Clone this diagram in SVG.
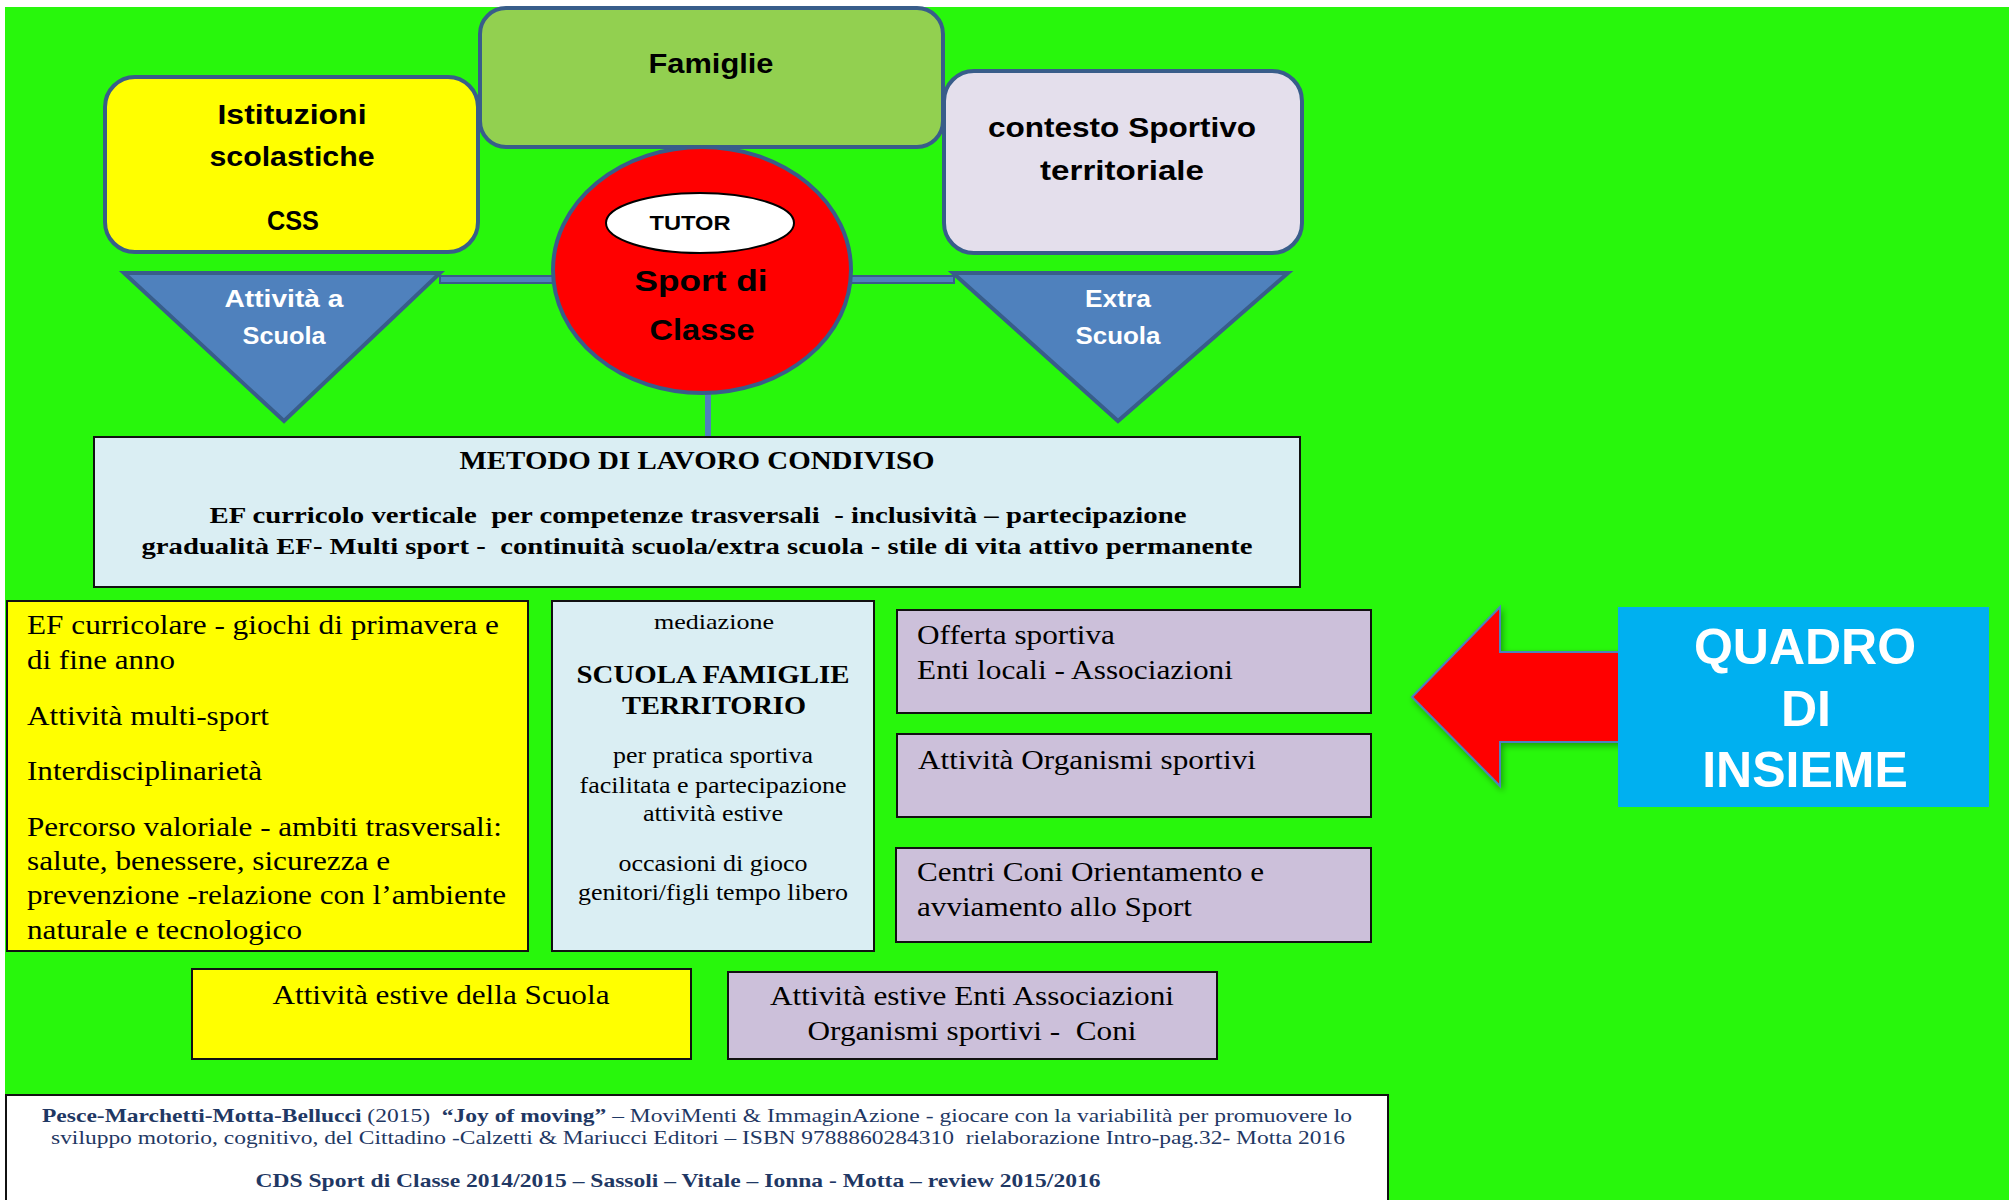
<svg xmlns="http://www.w3.org/2000/svg" width="2009" height="1200" viewBox="0 0 2009 1200">
<defs>
<style>
.hd{font-family:"Liberation Sans",Arial,sans-serif;font-weight:bold;fill:#000;text-anchor:middle}
.wh{font-family:"Liberation Sans",Arial,sans-serif;font-weight:bold;fill:#fff;text-anchor:middle}
.sr{font-family:"Liberation Serif","Times New Roman",serif;fill:#000;white-space:pre}
.srb{font-family:"Liberation Serif","Times New Roman",serif;font-weight:bold;fill:#000;white-space:pre}
.mid{text-anchor:middle}
.ft{font-family:"Liberation Serif","Times New Roman",serif;fill:#1F3864;font-size:19px;white-space:pre}
.rbox{stroke:#385D8A;stroke-width:4}
.sbox{stroke:#111;stroke-width:2}
</style>
<filter id="sh" x="-20%" y="-20%" width="140%" height="140%">
<feDropShadow dx="2" dy="3" stdDeviation="3" flood-color="#000" flood-opacity="0.35"/>
</filter>
</defs>
<rect x="0" y="0" width="2009" height="1200" fill="#fff"/>
<rect x="5" y="7" width="2004" height="1193" fill="#28F70C"/>

<g id="connectors">
<rect x="440" y="276" width="116" height="7" fill="#4F81BD" stroke="#385D8A" stroke-width="2"/>
<rect x="850" y="276" width="104" height="7" fill="#4F81BD" stroke="#385D8A" stroke-width="2"/>
<line x1="708" y1="392" x2="708" y2="437" stroke="#4F81BD" stroke-width="6"/>
</g>

<g id="node-istituzioni">
<rect x="105" y="77" width="373" height="175" rx="30" ry="30" fill="#FFFF00" class="rbox"/>
<text class="hd" x="292" y="124" font-size="27" textLength="149" lengthAdjust="spacingAndGlyphs">Istituzioni</text>
<text class="hd" x="292" y="166" font-size="27" textLength="165" lengthAdjust="spacingAndGlyphs">scolastiche</text>
<text class="hd" x="293" y="230" font-size="27" textLength="52" lengthAdjust="spacingAndGlyphs">CSS</text>
</g>

<g id="node-famiglie">
<rect x="480" y="8" width="463" height="139" rx="26" ry="26" fill="#92D050" class="rbox"/>
<text class="hd" x="711" y="73" font-size="27" textLength="125" lengthAdjust="spacingAndGlyphs">Famiglie</text>
</g>

<g id="node-contesto">
<rect x="944" y="71" width="358" height="182" rx="30" ry="30" fill="#E4DFEC" class="rbox"/>
<text class="hd" x="1122" y="137" font-size="27" textLength="268" lengthAdjust="spacingAndGlyphs">contesto Sportivo</text>
<text class="hd" x="1122" y="180" font-size="27" textLength="164" lengthAdjust="spacingAndGlyphs">territoriale</text>
</g>

<g id="node-attivita-scuola">
<polygon points="124,273 440,273 284,421" fill="#4F81BD" class="rbox"/>
<text class="wh" x="284" y="307" font-size="23" textLength="119" lengthAdjust="spacingAndGlyphs">Attività a</text>
<text class="wh" x="284" y="344" font-size="23" textLength="83" lengthAdjust="spacingAndGlyphs">Scuola</text>
</g>

<g id="node-extra-scuola">
<polygon points="953,273 1288,273 1118,421" fill="#4F81BD" class="rbox"/>
<text class="wh" x="1118" y="307" font-size="23" textLength="66" lengthAdjust="spacingAndGlyphs">Extra</text>
<text class="wh" x="1118" y="344" font-size="23" textLength="85" lengthAdjust="spacingAndGlyphs">Scuola</text>
</g>

<g id="node-sport-di-classe">
<ellipse cx="702" cy="270" rx="149" ry="123" fill="#FF0000" class="rbox"/>
<text class="hd" x="701" y="291" font-size="30" textLength="133" lengthAdjust="spacingAndGlyphs">Sport di</text>
<text class="hd" x="702" y="340" font-size="30" textLength="105" lengthAdjust="spacingAndGlyphs">Classe</text>
</g>

<g id="node-tutor">
<ellipse cx="700" cy="223" rx="94" ry="30" fill="#fff" stroke="#000" stroke-width="2"/>
<text class="hd" x="690" y="230" font-size="21" textLength="81" lengthAdjust="spacingAndGlyphs">TUTOR</text>
</g>

<g id="node-metodo">
<rect x="94" y="437" width="1206" height="150" fill="#DAEEF3" class="sbox"/>
<text class="srb mid" x="697" y="469" font-size="25" textLength="475" lengthAdjust="spacingAndGlyphs">METODO DI LAVORO CONDIVISO</text>
<text class="srb mid" x="698" y="523" font-size="24" textLength="977" lengthAdjust="spacingAndGlyphs">EF curricolo verticale  per competenze trasversali  - inclusività – partecipazione</text>
<text class="srb mid" x="697" y="554" font-size="24" textLength="1111" lengthAdjust="spacingAndGlyphs">gradualità EF- Multi sport -  continuità scuola/extra scuola - stile di vita attivo permanente</text>
</g>

<g id="node-scuola-attivita">
<rect x="7" y="601" width="521" height="350" fill="#FFFF00" class="sbox"/>
<text class="sr" x="27" y="634" font-size="27" textLength="472" lengthAdjust="spacingAndGlyphs">EF curricolare - giochi di primavera e</text>
<text class="sr" x="27" y="669" font-size="27" textLength="148" lengthAdjust="spacingAndGlyphs">di fine anno</text>
<text class="sr" x="27" y="725" font-size="27" textLength="242" lengthAdjust="spacingAndGlyphs">Attività multi-sport</text>
<text class="sr" x="27" y="780" font-size="27" textLength="235" lengthAdjust="spacingAndGlyphs">Interdisciplinarietà</text>
<text class="sr" x="27" y="836" font-size="27" textLength="475" lengthAdjust="spacingAndGlyphs">Percorso valoriale - ambiti trasversali:</text>
<text class="sr" x="27" y="870" font-size="27" textLength="363" lengthAdjust="spacingAndGlyphs">salute, benessere, sicurezza e</text>
<text class="sr" x="27" y="904" font-size="27" textLength="479" lengthAdjust="spacingAndGlyphs">prevenzione -relazione con l’ambiente</text>
<text class="sr" x="27" y="939" font-size="27" textLength="275" lengthAdjust="spacingAndGlyphs">naturale e tecnologico</text>
</g>

<g id="node-mediazione">
<rect x="552" y="601" width="322" height="350" fill="#DAEEF3" class="sbox"/>
<text class="sr mid" x="714" y="629" font-size="22" textLength="120" lengthAdjust="spacingAndGlyphs">mediazione</text>
<text class="srb mid" x="713" y="683" font-size="26" textLength="273" lengthAdjust="spacingAndGlyphs">SCUOLA FAMIGLIE</text>
<text class="srb mid" x="714" y="714" font-size="26" textLength="184" lengthAdjust="spacingAndGlyphs">TERRITORIO</text>
<text class="sr mid" x="713" y="763" font-size="23" textLength="200" lengthAdjust="spacingAndGlyphs">per pratica sportiva</text>
<text class="sr mid" x="713" y="793" font-size="23" textLength="267" lengthAdjust="spacingAndGlyphs">facilitata e partecipazione</text>
<text class="sr mid" x="713" y="821" font-size="23" textLength="140" lengthAdjust="spacingAndGlyphs">attività estive</text>
<text class="sr mid" x="713" y="871" font-size="23" textLength="189" lengthAdjust="spacingAndGlyphs">occasioni di gioco</text>
<text class="sr mid" x="713" y="900" font-size="23" textLength="270" lengthAdjust="spacingAndGlyphs">genitori/figli tempo libero</text>
</g>

<g id="node-offerta">
<rect x="897" y="610" width="474" height="103" fill="#CCC0DA" class="sbox"/>
<text class="sr" x="917" y="644" font-size="27" textLength="198" lengthAdjust="spacingAndGlyphs">Offerta sportiva</text>
<text class="sr" x="917" y="679" font-size="27" textLength="316" lengthAdjust="spacingAndGlyphs">Enti locali - Associazioni</text>
</g>

<g id="node-organismi">
<rect x="897" y="734" width="474" height="83" fill="#CCC0DA" class="sbox"/>
<text class="sr" x="918" y="769" font-size="27" textLength="338" lengthAdjust="spacingAndGlyphs">Attività Organismi sportivi</text>
</g>

<g id="node-coni">
<rect x="896" y="848" width="475" height="94" fill="#CCC0DA" class="sbox"/>
<text class="sr" x="917" y="881" font-size="27" textLength="347" lengthAdjust="spacingAndGlyphs">Centri Coni Orientamento e</text>
<text class="sr" x="917" y="916" font-size="27" textLength="275" lengthAdjust="spacingAndGlyphs">avviamento allo Sport</text>
</g>

<g id="node-estive-scuola">
<rect x="192" y="969" width="499" height="90" fill="#FFFF00" class="sbox"/>
<text class="sr mid" x="441" y="1004" font-size="27" textLength="337" lengthAdjust="spacingAndGlyphs">Attività estive della Scuola</text>
</g>

<g id="node-estive-enti">
<rect x="728" y="972" width="489" height="87" fill="#CCC0DA" class="sbox"/>
<text class="sr mid" x="972" y="1005" font-size="27" textLength="404" lengthAdjust="spacingAndGlyphs">Attività estive Enti Associazioni</text>
<text class="sr mid" x="972" y="1040" font-size="27" textLength="329" lengthAdjust="spacingAndGlyphs">Organismi sportivi -  Coni</text>
</g>

<g id="node-arrow">
<polygon points="1412,697 1500,607 1500,652 1620,652 1620,742 1500,742 1500,786" fill="#FF0000" stroke="#4F81BD" stroke-width="2" filter="url(#sh)"/>
</g>

<g id="node-quadro">
<rect x="1618" y="607" width="371" height="200" fill="#00B0F0"/>
<text class="wh" x="1805" y="664" font-size="50">QUADRO</text>
<text class="wh" x="1806" y="726" font-size="50">DI</text>
<text class="wh" x="1805" y="787" font-size="50">INSIEME</text>
</g>

<g id="node-footer">
<rect x="6" y="1095" width="1382" height="110" fill="#fff" class="sbox"/>
<text class="ft mid" x="697" y="1122" textLength="1310" lengthAdjust="spacingAndGlyphs"><tspan font-weight="bold">Pesce-Marchetti-Motta-Bellucci</tspan> (2015)  <tspan font-weight="bold">“Joy of moving”</tspan> – MoviMenti &amp; ImmaginAzione - giocare con la variabilità per promuovere lo</text>
<text class="ft mid" x="698" y="1144" textLength="1294" lengthAdjust="spacingAndGlyphs">sviluppo motorio, cognitivo, del Cittadino -Calzetti &amp; Mariucci Editori – ISBN 9788860284310  rielaborazione Intro-pag.32- Motta 2016</text>
<text class="ft mid" x="678" y="1187" font-weight="bold" textLength="845" lengthAdjust="spacingAndGlyphs">CDS Sport di Classe 2014/2015 – Sassoli – Vitale – Ionna - Motta – review 2015/2016</text>
</g>
</svg>
